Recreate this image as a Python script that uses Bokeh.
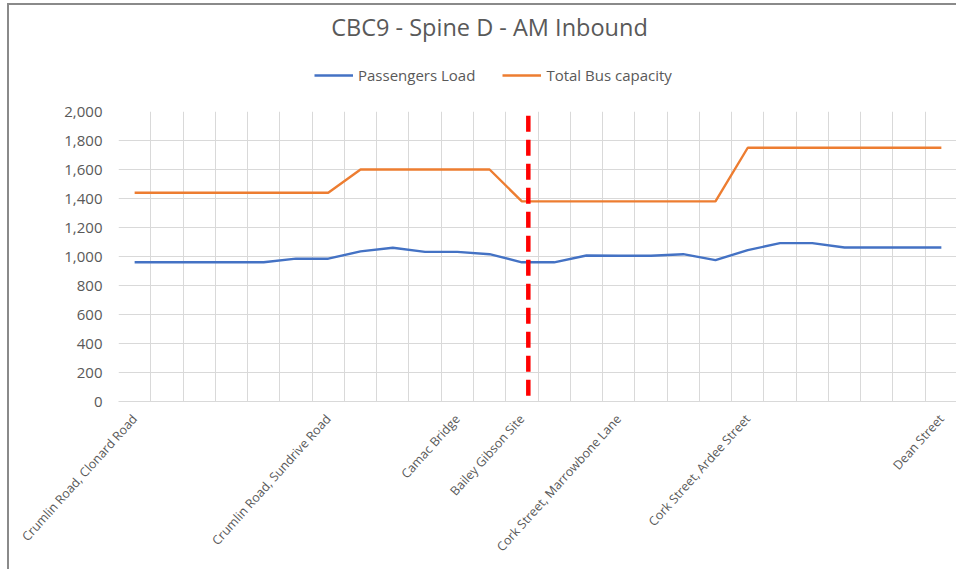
import math

from bokeh.embed import file_html
from bokeh.layouts import column
from bokeh.models import FixedTicker, Label, Legend, LegendItem, NumeralTickFormatter, Range1d
from bokeh.plotting import figure
from bokeh.resources import INLINE

# Stops along the corridor (blank entries are unnamed intermediate stops)
stops = [
    "Crumlin Road, Clonard Road", "", "", "", "", "",
    "Crumlin Road, Sundrive Road", "", "", "", "Camac Bridge", "",
    "Bailey Gibson Site", "", "", "Cork Street, Marrowbone Lane", "", "", "",
    "Cork Street, Ardee Street", "", "", "", "", "", "Dean Street",
]

passengers_load = [
    960, 960, 960, 960, 960, 985, 985, 1035, 1060, 1032, 1032, 1016, 960,
    960, 1007, 1005, 1005, 1016, 975, 1044, 1092, 1092, 1062, 1062, 1062, 1062,
]

bus_capacity = [
    1440, 1440, 1440, 1440, 1440, 1440, 1440, 1600, 1600, 1600, 1600, 1600, 1380,
    1380, 1380, 1380, 1380, 1380, 1380, 1750, 1750, 1750, 1750, 1750, 1750, 1750,
]

series_names = ["Passengers Load", "Total Bus capacity"]
chart_title = "CBC9 - Spine D - AM Inbound"

y_ticks = [0, 200, 400, 600, 800, 1000, 1200, 1400, 1600, 1800, 2000]

# position of the segment divider (between Bailey Gibson Site and the next stop)
divider_x = 12.2
divider_top = 1970

FONT = "Open Sans"
TEXT = "#595959"
GRID = "#d9d9d9"
BLUE = "#4472c4"
ORANGE = "#ed7d31"
FRAME_BORDER = "2px solid #8a8a8a"
LINE_W = 2.4

xs = list(range(len(stops)))

# ---- header strip: chart title and legend ----
# (its frame is aligned with the chart frame below by the column layout;
#  the series lines fall outside its unit ranges, so only their legend swatches show)
head = figure(
    width=949, height=98, output_backend="svg", toolbar_location=None,
    x_axis_type=None, y_axis_type=None,
    x_range=Range1d(0, 1), y_range=Range1d(0, 1),
    min_border=0,
)
head.margin = (3, 0, 0, 7)
head.styles = {"border-top": FRAME_BORDER, "border-left": FRAME_BORDER}
head.outline_line_color = None
head.grid.visible = False

head_load = head.line(xs, passengers_load, line_color=BLUE, line_width=LINE_W)
head_cap = head.line(xs, bus_capacity, line_color=ORANGE, line_width=LINE_W)

head.add_layout(Legend(
    items=[LegendItem(label=series_names[0], renderers=[head_load]),
           LegendItem(label=series_names[1], renderers=[head_cap])],
    location=(196, 18), orientation="horizontal",
    padding=0, margin=0, spacing=27, label_standoff=5,
    glyph_width=39, glyph_height=20,
    label_text_font=FONT, label_text_font_size="15px", label_text_color=TEXT,
    background_fill_alpha=0, border_line_color=None,
))

head.add_layout(Label(
    x=371, y=77, x_units="screen", y_units="screen",
    text=chart_title, text_align="center", text_baseline="middle",
    text_font=FONT, text_font_size="23.5px", text_color=TEXT,
))

# ---- main chart ----
p = figure(
    width=949, height=468,
    output_backend="svg", toolbar_location=None,
    x_range=Range1d(-0.5, len(stops) - 0.5),
    y_range=Range1d(0, 2000),
    min_border_left=109, min_border_right=1,
    min_border_top=10, min_border_bottom=168,
)
p.margin = (0, 0, 0, 7)
p.styles = {"border-left": FRAME_BORDER}
p.outline_line_color = None
p.background_fill_color = "white"
p.border_fill_color = "white"

# grid: horizontal at every 200, vertical between categories
p.ygrid.ticker = FixedTicker(ticks=y_ticks)
p.xgrid.ticker = FixedTicker(ticks=[i - 0.5 for i in range(len(stops) + 1)])
p.grid.grid_line_color = GRID
p.grid.grid_line_width = 1

# axes
p.yaxis.ticker = FixedTicker(ticks=y_ticks)
p.yaxis.formatter = NumeralTickFormatter(format="0,0")
p.yaxis.axis_line_color = None
p.yaxis.major_tick_line_color = None
p.yaxis.minor_tick_line_color = None
p.yaxis.major_label_text_font = FONT
p.yaxis.major_label_text_font_size = "15px"
p.yaxis.major_label_text_color = TEXT
p.yaxis.major_label_standoff = 10

labelled = [i for i, s in enumerate(stops) if s]
p.xaxis.ticker = FixedTicker(ticks=labelled)
p.xaxis.major_label_overrides = {i: stops[i] for i in labelled}
p.xaxis.major_label_orientation = math.radians(48)
p.xaxis.axis_line_color = GRID
p.xaxis.major_tick_line_color = None
p.xaxis.minor_tick_line_color = None
p.xaxis.major_label_text_font = FONT
p.xaxis.major_label_text_font_size = "12.5px"
p.xaxis.major_label_text_color = TEXT
p.xaxis.major_label_standoff = 9

p.line(xs, passengers_load, line_color=BLUE, line_width=LINE_W)
p.line(xs, bus_capacity, line_color=ORANGE, line_width=LINE_W)

# red dashed divider
p.line([divider_x, divider_x], [divider_top, 0], line_color="#ff0000",
       line_width=4.5, line_dash="16 8")

layout = column(head, p, spacing=0)
open("out.html", "w").write(file_html(layout, INLINE))
